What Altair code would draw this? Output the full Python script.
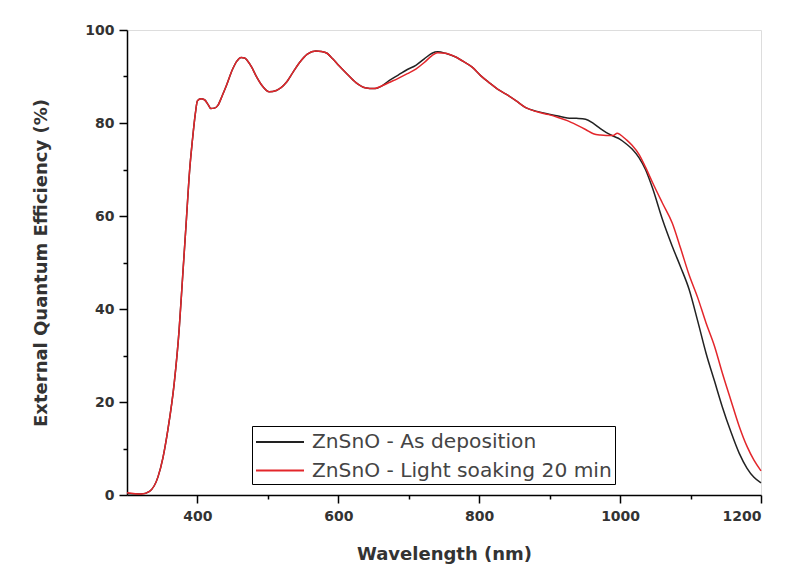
import altair as alt
import pandas as pd

series_names = ["ZnSnO - As deposition", "ZnSnO - Light soaking 20 min"]

wl_dep = [300, 320, 332, 344, 351, 358, 367, 374, 379, 384, 389, 393, 397, 400, 405, 410, 415, 419, 424, 429,
          435, 441, 450, 456, 462, 467, 471, 477, 483, 492, 502, 512, 526, 536, 545, 556, 568, 576, 584, 592,
          601, 612, 625, 638, 651, 662, 672, 685, 698, 710, 722, 733, 741, 752, 765, 778, 790, 802, 814, 826,
          838, 852, 866, 882, 899, 912, 925, 938, 951, 962, 972, 980, 990, 1000, 1008, 1017, 1027, 1036, 1046,
          1060, 1074, 1086, 1098, 1110, 1122, 1134, 1145, 1157, 1169, 1180, 1190, 1200]
eqe_dep = [0.3, 0.2, 0.8, 3.9, 8, 14, 24, 35.5, 47, 58.5, 70, 76.5, 82, 84.8, 85.2, 85, 84, 83.1, 83.2, 83.8,
           85.8, 88, 91.6, 93.3, 94.1, 94, 93.4, 92, 90.2, 88, 86.7, 87, 88.7, 91, 93, 94.8, 95.5, 95.4, 95, 93.8,
           92.3, 90.6, 88.7, 87.6, 87.4, 88, 89.1, 90.3, 91.5, 92.4, 93.8, 95, 95.3, 95, 94.3, 93.2, 92, 90.2, 88.7, 87.3,
           86.2, 84.8, 83.3, 82.5, 81.9, 81.5, 81.1, 81, 80.8, 79.9, 78.8, 78, 77.2, 76.5, 75.6, 74.4, 72.5, 70, 66,
           59.3, 53.5, 49, 44.2, 37.5, 30.5, 24.5, 19, 13.7, 9, 5.8, 3.8, 2.6]

wl_ls = [300, 320, 332, 344, 351, 358, 367, 374, 379, 384, 389, 393, 397, 400, 405, 410, 415, 419, 424, 429,
         435, 441, 450, 456, 462, 467, 471, 477, 483, 492, 502, 512, 526, 536, 545, 556, 568, 576, 584, 592,
         601, 612, 625, 638, 651, 662, 672, 685, 698, 710, 722, 733, 741, 752, 765, 778, 790, 802, 814, 826,
         838, 852, 866, 882, 899, 912, 925, 938, 951, 962, 972, 980, 990, 996, 1000, 1008, 1017, 1027, 1036, 1046,
         1060, 1074, 1086, 1098, 1110, 1122, 1134, 1145, 1157, 1169, 1180, 1190, 1200]
eqe_ls = [0.5, 0.2, 0.8, 3.9, 8, 14, 24, 35.5, 47, 58.5, 70, 76.5, 82, 84.8, 85.2, 85, 84, 83.1, 83.2, 83.8,
          85.8, 88, 91.6, 93.3, 94.1, 94, 93.4, 92, 90.2, 88, 86.7, 87, 88.7, 91, 93, 94.8, 95.5, 95.4, 95, 93.8,
          92.3, 90.6, 88.7, 87.6, 87.4, 88, 88.7, 89.6, 90.6, 91.6, 93, 94.5, 95.1, 95, 94.3, 93.2, 92, 90.2, 88.7, 87.3,
          86.2, 84.8, 83.3, 82.4, 81.8, 81.2, 80.5, 79.6, 78.6, 77.7, 77.4, 77.3, 77.3, 77.8, 77.5, 76.5, 75.2, 73.2, 70.5, 67.2,
          62.8, 58.5, 53, 47.3, 42.5, 37, 32, 26.3, 20.5, 14.8, 10.5, 7.5, 5.2]

x_major = [400, 600, 800, 1000, 1200]
x_minor = [500, 700, 900, 1100]
y_major = [0, 20, 40, 60, 80, 100]
y_minor = [10, 30, 50, 70, 90]

rows = []
for w, v in zip(wl_dep, eqe_dep):
    rows.append({"wl": w, "eqe": v, "series": series_names[0]})
for w, v in zip(wl_ls, eqe_ls):
    rows.append({"wl": w, "eqe": v, "series": series_names[1]})
df = pd.DataFrame(rows)

FONT = "DejaVu Sans"
xscale = alt.Scale(domain=[300, 1200], nice=False, zero=False)
yscale = alt.Scale(domain=[0, 100], nice=False)

main = alt.Chart(df).mark_line(interpolate="monotone", strokeWidth=1.5).encode(
    x=alt.X("wl:Q", scale=xscale,
            axis=alt.Axis(orient="bottom", values=x_major, format="d", ticks=False,
                          domainColor="black", domainWidth=1.5, grid=False,
                          labelFont=FONT, labelFontWeight="bold", labelFontSize=14, labelColor="#333333",
                          labelPadding=14,
                          title="Wavelength (nm)", titleFont=FONT, titleFontSize=18, titleFontWeight="bold",
                          titleColor="#333333", titlePadding=22)),
    y=alt.Y("eqe:Q", scale=yscale,
            axis=alt.Axis(orient="left", values=y_major, format="d", ticks=False,
                          domainColor="black", domainWidth=1.5, grid=False,
                          labelFont=FONT, labelFontWeight="bold", labelFontSize=14, labelColor="#333333",
                          labelPadding=13,
                          title="External Quantum Efficiency (%)", titleFont=FONT, titleFontSize=18,
                          titleFontWeight="bold", titleColor="#333333", titlePadding=34)),
    color=alt.Color("series:N",
                    scale=alt.Scale(domain=series_names, range=["#222222", "#e3262b"]),
                    legend=alt.Legend(orient="none", legendX=125, legendY=396, title=None,
                                      symbolType="M-2,0H2", symbolSize=576, symbolStrokeWidth=2,
                                      symbolOffset=12,
                                      labelFont=FONT, labelFontSize=20.2, labelColor="#444444",
                                      labelOffset=19, rowPadding=4.5, padding=3,
                                      fillColor="white", strokeColor="black", labelLimit=400)),
)

major_ticks = alt.Chart(df).mark_line(opacity=0).encode(
    x=alt.X("wl:Q", scale=xscale,
            axis=alt.Axis(orient="bottom", values=x_major, labels=False, domain=False,
                          tickSize=8, tickWidth=1.5, tickColor="black", grid=False, title=None)),
    y=alt.Y("eqe:Q", scale=yscale,
            axis=alt.Axis(orient="left", values=y_major, labels=False, domain=False,
                          tickSize=8, tickWidth=1.5, tickColor="black", grid=False, title=None)),
)

minor_ticks = alt.Chart(df).mark_line(opacity=0).encode(
    x=alt.X("wl:Q", scale=xscale,
            axis=alt.Axis(orient="bottom", values=x_minor, labels=False, domain=False,
                          tickSize=4, tickWidth=1.5, tickColor="black", grid=False, title=None)),
    y=alt.Y("eqe:Q", scale=yscale,
            axis=alt.Axis(orient="left", values=y_minor, labels=False, domain=False,
                          tickSize=4, tickWidth=1.5, tickColor="black", grid=False, title=None)),
)

chart = alt.layer(main, major_ticks, minor_ticks).resolve_axis(x="independent", y="independent").properties(
    width=634, height=465,
    padding={"left": 127, "top": 30, "right": 34, "bottom": 84},
    autosize="none",
).configure_view(stroke="black", strokeWidth=1.5).configure(background="white")

chart.save("out.html", embed_options={"renderer": "svg", "actions": False})
